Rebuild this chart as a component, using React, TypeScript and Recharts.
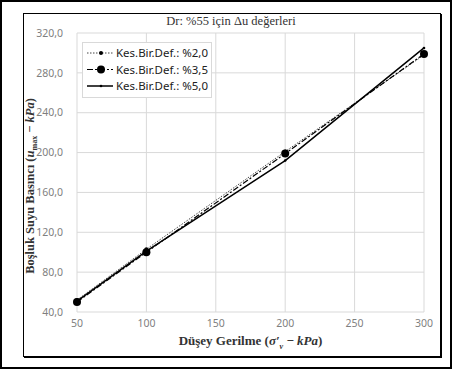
import React from 'react';
import { LineChart, Line, XAxis, YAxis, CartesianGrid } from 'recharts';

// Düşey gerilme (kPa)
const stresses = [50, 100, 200, 300];
// Kes.Bir.Def. serileri (kPa)
const def20 = [52, 103, 201, 298];
const def35 = [50, 100, 199, 299];
const def50 = [51, 101, 192, 305];

const seriesNames = ['Kes.Bir.Def.: %2,0', 'Kes.Bir.Def.: %3,5', 'Kes.Bir.Def.: %5,0'];
const xTicks = [50, 100, 150, 200, 250, 300];
const yTicks = [40, 80, 120, 160, 200, 240, 280, 320];

const data = stresses.map((s, i) => ({
  x: s,
  d20: def20[i],
  d35: def35[i],
  d50: def50[i],
}));

const fmt = (v: number) => v.toFixed(1).replace('.', ',');

const serif = '"Liberation Serif", "DejaVu Serif", serif';
const sans = '"Noto Sans", "Liberation Sans", sans-serif';

const lineStyles = [
  { key: 'd20', dash: '1.5 1.5', width: 1, color: '#444', r: 2 },
  { key: 'd35', dash: '6 2 2 2', width: 1.2, color: '#000', r: 4 },
  { key: 'd50', dash: undefined, width: 1.5, color: '#000', r: 1.3 },
];

function LegendBox() {
  return (
    <div
      style={{
        position: 'absolute', left: 82, top: 42, width: 130, height: 56,
        background: '#fff', border: '1px solid #d9d9d9', boxSizing: 'border-box',
      }}
    >
      <svg width={130} height={56} style={{ position: 'absolute', left: 0, top: 0 }}>
        {lineStyles.map((s, i) => {
          const y = 10 + i * 16.5;
          return (
            <g key={s.key}>
              <line x1={4} x2={30} y1={y} y2={y} stroke={s.color} strokeWidth={s.width} strokeDasharray={s.dash} />
              <circle cx={18} cy={y} r={s.r} fill="#000" />
              <text x={33} y={y + 4} fontFamily={sans} fontSize={10.8} fill="#222" textLength={92} lengthAdjust="spacingAndGlyphs">
                {seriesNames[i]}
              </text>
            </g>
          );
        })}
      </svg>
    </div>
  );
}

export default function App() {
  return (
    <div style={{ position: 'absolute', left: 0, top: 0, width: 454, height: 372, background: '#fff' }}>
      <div style={{ position: 'absolute', left: 0, top: 0, width: 452, height: 369, border: '2px solid #000', boxSizing: 'border-box' }} />
      <div style={{ position: 'absolute', left: 23, top: 13, width: 418, height: 344, border: '1.5px solid #000', boxShadow: '1px 1px 0 #000', boxSizing: 'border-box' }} />
      <div style={{ position: 'absolute', left: 0, top: 0 }}>
        <LineChart width={454} height={372} data={data} margin={{ top: 33, right: 30, bottom: 30, left: 0 }}>
          <CartesianGrid stroke="#d9d9d9" strokeWidth={1} />
          <XAxis
            dataKey="x" type="number" domain={[50, 300]} ticks={xTicks}
            axisLine={false} tickLine={false} tickSize={0} tickMargin={8} height={30}
            tick={{ fontFamily: sans, fontSize: 10.5, fill: '#7f7f7f' }}
          />
          <YAxis
            type="number" domain={[40, 320]} ticks={yTicks} tickFormatter={fmt}
            axisLine={false} tickLine={false} tickSize={0} tickMargin={14} width={77}
            tick={{ fontFamily: sans, fontSize: 10.5, fill: '#7f7f7f' }}
          />
          {lineStyles.map(s => (
            <Line
              key={s.key} dataKey={s.key} type="linear" stroke={s.color}
              strokeWidth={s.width} strokeDasharray={s.dash}
              dot={{ r: s.r, fill: '#000', stroke: 'none' }}
              isAnimationActive={false}
            />
          ))}
        </LineChart>
      </div>
      <div style={{ position: 'absolute', left: 0, width: 454, top: 14, textAlign: 'center', paddingLeft: 8, boxSizing: 'border-box', fontFamily: serif, fontSize: 12.5, color: '#333' }}>
        Dr: %55 için Δu değerleri
      </div>
      <LegendBox />
      <div style={{ position: 'absolute', left: 77, width: 347, top: 333, textAlign: 'center', fontFamily: serif, fontWeight: 'bold', fontSize: 13, color: '#333', lineHeight: '16px' }}>
        Düşey Gerilme (<i>σ′</i><sub style={{ fontSize: 8, lineHeight: 0 }}><i>v</i></sub> − <i>kPa</i>)
      </div>
      <div
        style={{
          position: 'absolute', left: 31, top: 186, width: 260, textAlign: 'center',
          transform: 'translate(-50%, -50%) rotate(-90deg)', fontFamily: serif, fontWeight: 'bold',
          fontSize: 12.5, color: '#333', whiteSpace: 'nowrap',
        }}
      >
        Boşluk Suyu Basıncı (<i>u</i><sub style={{ fontSize: 8 }}>max</sub> − <i>kPa</i>)
      </div>
    </div>
  );
}
